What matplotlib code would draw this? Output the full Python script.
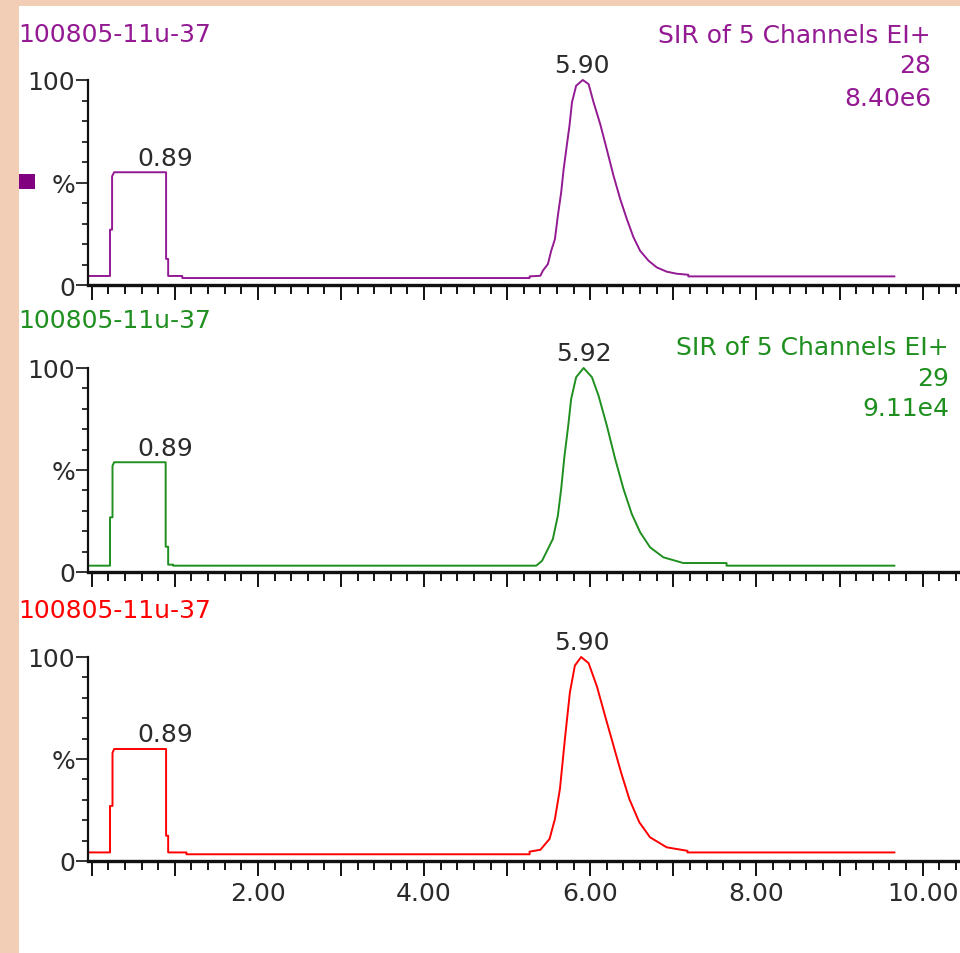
import matplotlib
matplotlib.use("Agg")
import numpy as np
import matplotlib.pyplot as plt
from matplotlib.patches import Rectangle
from matplotlib.ticker import MultipleLocator, FixedLocator, FixedFormatter, FuncFormatter

# ---- data (time in min, intensity in %) ----
sample_name = "100805-11u-37"
channel_title = "SIR of 5 Channels EI+"

t_ch28 = [-0.04, 0.22, 0.22, 0.245, 0.245, 0.27, 0.895, 0.895, 0.92, 0.92, 1.09, 1.09,
          5.27, 5.27, 5.40, 5.43, 5.49, 5.53, 5.575, 5.61, 5.65, 5.68, 5.72, 5.75, 5.78,
          5.83, 5.91, 5.98, 6.04, 6.12, 6.20, 6.28, 6.36, 6.44, 6.52, 6.60, 6.70, 6.80,
          6.92, 7.04, 7.18, 7.18, 9.66]
i_ch28 = [4.4, 4.4, 27, 27, 53, 55, 55, 12.7, 12.7, 4.4, 4.4, 3.4,
          3.4, 4.2, 4.5, 7.0, 10.2, 16.7, 22.4, 33.8, 45.2, 56.6, 68.8, 77.7, 89.1,
          97.2, 100, 98, 89.1, 78.5, 66, 53.3, 42, 32.2, 23.3, 16.7, 11.9, 8.6,
          6.5, 5.5, 5.0, 4.2, 4.2]

t_ch29 = [-0.04, 0.22, 0.22, 0.25, 0.25, 0.27, 0.89, 0.89, 0.92, 0.92, 0.98, 0.98,
          5.35, 5.42, 5.47, 5.55, 5.61, 5.65, 5.69, 5.735, 5.77, 5.83, 5.92, 6.02,
          6.10, 6.20, 6.30, 6.40, 6.50, 6.60, 6.72, 6.88, 7.12, 7.64, 7.64, 9.66]
i_ch29 = [3.1, 3.1, 26.8, 26.8, 52, 53.8, 53.8, 12.4, 12.4, 3.6, 3.6, 3.1,
          3.1, 5.5, 9.6, 16.2, 27.6, 40.7, 57, 71.7, 84.8, 95.5, 100, 95.5,
          86.4, 71.7, 55.4, 40.7, 28.4, 19.5, 12.1, 7.2, 4.4, 4.4, 3.1, 3.1]

t_ch3 = [-0.04, 0.22, 0.22, 0.25, 0.25, 0.27, 0.895, 0.895, 0.92, 0.92, 1.14, 1.14,
         5.27, 5.27, 5.40, 5.51, 5.575, 5.635, 5.695, 5.755, 5.815, 5.89, 5.98, 6.08,
         6.18, 6.28, 6.37, 6.47, 6.59, 6.72, 6.92, 7.17, 7.17, 9.66]
i_ch3 = [4.2, 4.2, 27, 27, 53, 54.9, 54.9, 12.4, 12.4, 4.2, 4.2, 3.3,
         3.3, 4.6, 5.5, 10.8, 20.6, 35.3, 59.8, 82.7, 95.8, 100, 97, 85.6,
         70.9, 56.5, 43.5, 30.4, 19, 11.6, 6.7, 5.0, 4.2, 4.2]

peaks_ch28 = [0.89, 5.90]
peaks_ch29 = [0.89, 5.92]
peaks_ch3 = [0.89, 5.90]

info_ch28 = ["28", "8.40e6"]
info_ch29 = ["29", "9.11e4"]

W, H = 960, 954


def fx(px):
    return px / W


def fy(py):
    return 1 - py / H


fig = plt.figure(figsize=(9.6, 9.54), dpi=100, facecolor="#f3ceb6")
fig.patches.append(Rectangle((fx(19), 0), 1 - fx(19), fy(7), transform=fig.transFigure,
                             facecolor="white", edgecolor="none", zorder=-1))

FS = 18
tick_col = "#2b2b2b"

panels = [
    # (times, intens, peaks, colour, top px, bottom px, header baseline, info block)
    (t_ch28, i_ch28, peaks_ch28, "#931a93", 81, 286, 42, (931, [43, 73, 106], info_ch28)),
    (t_ch29, i_ch29, peaks_ch29, "#1f8f1f", 369, 573, 328, (949, [355, 386, 416], info_ch29)),
    (t_ch3, i_ch3, peaks_ch3, "#ff0000", 658, 862, 618, None),
]

x_left = 88.4
for n, (t, inten, peaks, col, top, bot, head_y, info) in enumerate(panels):
    ax = fig.add_axes([fx(x_left), fy(bot), (W - x_left) / W, (bot - top) / H])
    ax.patch.set_visible(False)
    ax.plot(t, inten, color=col, lw=1.4, clip_on=False)
    ax.set_xlim(-0.04, 10.45)
    ax.set_ylim(0, 100)
    for s in ["top", "right"]:
        ax.spines[s].set_visible(False)
    ax.spines["left"].set_linewidth(1.6)
    ax.spines["bottom"].set_linewidth(2.4)
    ax.spines["left"].set_color("#111111")
    ax.spines["bottom"].set_color("#111111")

    ax.xaxis.set_major_locator(MultipleLocator(1))
    ax.xaxis.set_minor_locator(MultipleLocator(0.2))
    if n == 2:
        ax.xaxis.set_major_formatter(FuncFormatter(
            lambda v, p: f"{v:.2f}" if v > 0.5 and abs(v / 2 - round(v / 2)) < 1e-6 else ""))
    else:
        ax.xaxis.set_major_formatter(FuncFormatter(lambda v, p: ""))
    ax.yaxis.set_major_locator(FixedLocator([0, 50, 100]))
    ax.yaxis.set_major_formatter(FixedFormatter(["0", "%", "100"]))
    ax.yaxis.set_minor_locator(MultipleLocator(10))

    ax.tick_params(axis="x", which="major", length=10.5, width=1.4, color="#111111",
                   labelsize=FS, labelcolor=tick_col, pad=4)
    ax.tick_params(axis="x", which="minor", length=6.5, width=1.4, color="#111111")
    ax.tick_params(axis="y", which="major", length=8.5, width=1.2, color="#111111",
                   labelsize=FS, labelcolor=tick_col, pad=1)
    ax.tick_params(axis="y", which="minor", length=4.5, width=1.2, color="#111111")

    # peak apex labels
    tt = np.array(t)
    ii = np.array(inten)
    for p in peaks:
        y = ii[np.abs(tt - p) <= 0.03].max()
        ax.annotate(f"{p:.2f}", xy=(p, y), xytext=(0, 5.5), textcoords="offset points",
                    ha="center", va="baseline", fontsize=FS, color=tick_col,
                    annotation_clip=False)

    fig.text(fx(18), fy(head_y), sample_name, color=col, fontsize=FS,
             ha="left", va="baseline")
    if info is not None:
        xr, ys, vals = info
        for txt, yb in zip([channel_title] + vals, ys):
            fig.text(fx(xr), fy(yb), txt, color=col, fontsize=FS, ha="right", va="baseline")

# trace selection marker
fig.patches.append(Rectangle((fx(19), fy(190)), 16 / W, 15 / H, transform=fig.transFigure,
                             facecolor="#800080", edgecolor="none"))

fig.savefig("out.png", dpi=100, facecolor=fig.get_facecolor())
